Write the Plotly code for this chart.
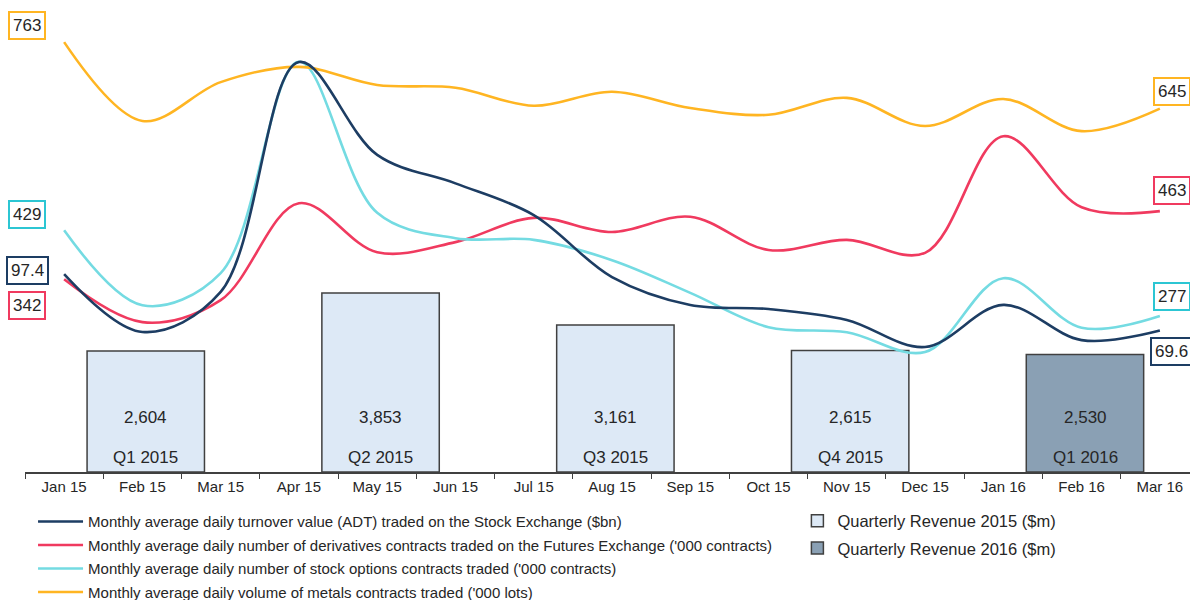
import plotly.graph_objects as go

months = ["Jan 15", "Feb 15", "Mar 15", "Apr 15", "May 15", "Jun 15", "Jul 15", "Aug 15",
          "Sep 15", "Oct 15", "Nov 15", "Dec 15", "Jan 16", "Feb 16", "Mar 16"]

adt = [97.4, 68.9, 88.6, 201.7, 156.0, 142.0, 126.4, 95.9, 82.2, 80.2, 74.8, 61.5, 82.2, 64.9, 69.6]
derivatives = [342, 266, 305, 477, 390, 408, 451, 426, 453, 394, 412, 389, 596, 470, 463]
stock_options = [429, 296, 353, 728, 460, 415, 412, 376, 318, 257, 248, 213, 344, 256, 277]
metals = [763, 623, 692, 719, 687, 682, 650, 675, 646, 634, 664, 614, 662, 605, 645]

quarter_months = ["Feb 15", "May 15", "Aug 15", "Nov 15", "Feb 16"]
quarter_labels = ["Q1 2015", "Q2 2015", "Q3 2015", "Q4 2015", "Q1 2016"]
quarter_revenue = [2604, 3853, 3161, 2615, 2530]
quarter_year = [2015, 2015, 2015, 2015, 2016]

names = {
    "adt": "Monthly average daily turnover value (ADT) traded on the Stock Exchange ($bn)",
    "der": "Monthly average daily number of derivatives contracts traded on the Futures Exchange ('000 contracts)",
    "opt": "Monthly average daily number of stock options contracts traded ('000 contracts)",
    "met": "Monthly average daily volume of metals contracts traded ('000 lots)",
    "r15": "Quarterly Revenue 2015 ($m)",
    "r16": "Quarterly Revenue 2016 ($m)",
}

NAVY = "#1d3d63"
RED = "#f03a5f"
CYAN = "#74dbe2"
CYAN_B = "#2cc6d3"
ORANGE = "#ffb522"
FONT = "Liberation Sans, Arial, sans-serif"
TXT = "#262626"
BAR_W = 1.5
BAR_NUDGE = 0.043  # bars sit slightly right of the month centres in the source

fig = go.Figure()

# bars
for yr, fill, key in [(2015, "#dde9f6", "r15"), (2016, "#8aa0b4", "r16")]:
    xs = [m for m, y in zip(quarter_months, quarter_year) if y == yr]
    vs = [v for v, y in zip(quarter_revenue, quarter_year) if y == yr]
    fig.add_trace(go.Bar(x=xs, y=vs, name=names[key], width=BAR_W, offset=-BAR_W / 2 + BAR_NUDGE,
                         marker=dict(color=fill, line=dict(color="#404040", width=1.5)),
                         legend="legend2", legendgroup=key, yaxis="y",
                         hoverinfo="skip"))

series = [
    (adt, NAVY, "adt", "y3"),
    (derivatives, RED, "der", "y2"),
    (stock_options, CYAN, "opt", "y2"),
    (metals, ORANGE, "met", "y2"),
]
for vals, col, key, ax in series:
    fig.add_trace(go.Scatter(x=months, y=vals, name=names[key], mode="lines",
                             line=dict(color=col, width=2.6, shape="spline", smoothing=1.0),
                             yaxis=ax, legend="legend", legendgroup=key))

ann = []
for m, v, q in zip(quarter_months, quarter_revenue, quarter_labels):
    ann.append(dict(x=m, y=0, xref="x", yref="y", text=f"{v:,}", showarrow=False, xshift=3.4,
                    yanchor="middle", yshift=55, font=dict(family=FONT, size=17, color=TXT)))
    ann.append(dict(x=m, y=0, xref="x", yref="y", text=q, showarrow=False, xshift=3.4,
                    yanchor="middle", yshift=15, font=dict(family=FONT, size=17, color=TXT)))

# end labels: (values, border color, axis, left yshift, right yshift, fmt)
labels = [
    (metals, ORANGE, "y2", 17, 17, "{:.0f}"),
    (stock_options, CYAN_B, "y2", 16, 19, "{:.0f}"),
    (adt, NAVY, "y3", 4, -21, "{:.1f}"),
    (derivatives, RED, "y2", -26, 21, "{:.0f}"),
]
for vals, col, ax, ls, rs, fmt in labels:
    for idx, xs, shift in [(0, -37, ls), (-1, 12, rs)]:
        ann.append(dict(x=months[idx], y=vals[idx], xref="x", yref=ax, text=fmt.format(vals[idx]),
                        showarrow=False, xshift=xs, yshift=shift, xanchor="center", yanchor="middle",
                        bgcolor="white", bordercolor=col, borderwidth=2, borderpad=3,
                        font=dict(family=FONT, size=17, color=TXT)))

fig.update_layout(
    width=1190, height=600,
    margin=dict(l=25, r=0, t=10, b=128, autoexpand=False),
    paper_bgcolor="white", plot_bgcolor="white",
    font=dict(family=FONT, size=15, color=TXT),
    showlegend=True,
    barmode="overlay",
    xaxis=dict(type="category", categoryorder="array", categoryarray=months,
               range=[-0.5, 14.385], tickson="boundaries", ticks="outside", ticklen=5,
               tickcolor="#404040", showline=True, linecolor="#404040", linewidth=1.5,
               showgrid=False, zeroline=False, tickfont=dict(family=FONT, size=15, color=TXT)),
    yaxis=dict(range=[0, 9942], visible=False, fixedrange=True),
    yaxis2=dict(range=[0, 820], overlaying="y", visible=False),
    yaxis3=dict(range=[0, 227.3], overlaying="y", visible=False),
    legend=dict(x=0.0069, y=-0.072, xanchor="left", yanchor="top", orientation="v",
                font=dict(family=FONT, size=15, color=TXT), bgcolor="rgba(0,0,0,0)",
                itemwidth=45, traceorder="grouped", tracegroupgap=1),
    legend2=dict(x=0.663, y=-0.068, xanchor="left", yanchor="top", orientation="v",
                 font=dict(family=FONT, size=16.5, color=TXT), bgcolor="rgba(0,0,0,0)",
                 itemwidth=30, traceorder="grouped", tracegroupgap=3),
    annotations=ann,
)

fig.write_html("out.html", config={"displayModeBar": False},
               post_script="document.body.style.margin='0';")
